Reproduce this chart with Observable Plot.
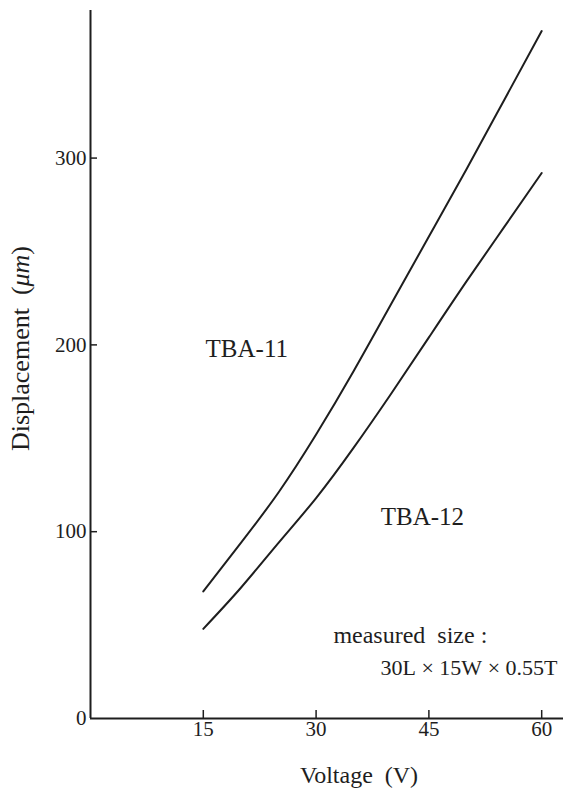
<!DOCTYPE html>
<html><head><meta charset="utf-8">
<script src="https://cdn.jsdelivr.net/npm/d3@7"></script>
<script src="https://cdn.jsdelivr.net/npm/@observablehq/plot@0.6"></script>
<style>body{margin:0;background:#fff;}</style>
</head><body><div id="chart"></div>
<script>
const voltage = [15, 20, 25, 30, 35, 40, 45, 50, 55, 60];
const tba11 = [68, 94, 121, 152, 186, 222, 258, 294, 331, 368];
const tba12 = [48, 70, 94, 118, 145, 174, 204, 234, 263, 292];
const seriesNames = ["TBA-11", "TBA-12"];
const xTicks = [15, 30, 45, 60];
const yTicks = [0, 100, 200, 300];
const xLabel = "Voltage\u00A0\u00A0(V)";
const yLabelMain = "Displacement\u00A0\u00A0(";
const yLabelUnit = "μm";
const yLabel = yLabelMain + yLabelUnit + ")";
const noteLines = ["measured\u00A0\u00A0size\u00A0:", "30L\u00A0×\u00A015W\u00A0×\u00A00.55T"];

const rows = [];
voltage.forEach((v, i) => {
  rows.push({series: seriesNames[0], v, d: tba11[i]});
  rows.push({series: seriesNames[1], v, d: tba12[i]});
});

const ink = "#1e1e1e";
const serif = "Liberation Serif";

const seriesLabels = [
  {t: seriesNames[0], x: 15.3, y: 198},
  {t: seriesNames[1], x: 38.6, y: 107.6}
];

const chart = Plot.plot({
  width: 563, height: 794,
  marginLeft: 90, marginRight: 0, marginTop: 10, marginBottom: 76,
  style: {fontFamily: serif, fontSize: "21px", color: ink, background: "#fff", overflow: "visible"},
  x: {domain: [0, 62.9]},
  y: {domain: [0, 379]},
  marks: [
    Plot.ruleX([0], {stroke: ink, strokeWidth: 2}),
    Plot.ruleY([0], {stroke: ink, strokeWidth: 2}),
    Plot.axisY(yTicks, {tickSize: 0, tickPadding: 4, label: null, fontSize: 21, fontFamily: serif}),
    Plot.axisY(yTicks.filter(d => d > 0), {tickSize: 7, dx: 7, tickFormat: () => "", label: null, strokeWidth: 1.5}),
    Plot.axisX(xTicks, {tickSize: 0, tickPadding: 3, label: null, fontSize: 21, fontFamily: serif}),
    Plot.axisX(xTicks, {tickSize: 8, dy: -8, tickFormat: () => "", label: null, strokeWidth: 1.5}),
    Plot.line(rows, {x: "v", y: "d", z: "series", curve: "natural", stroke: ink, strokeWidth: 2}),
    Plot.text(seriesLabels, {x: "x", y: "y", text: "t", textAnchor: "start", fontSize: 25, fontFamily: serif, fill: ink}),
    Plot.text([noteLines[0]], {x: 32.3, y: 44.4, textAnchor: "start", fontSize: 24, fontFamily: serif, fill: ink}),
    Plot.text([noteLines[1]], {x: 62.1, y: 27.3, textAnchor: "end", fontSize: 22, fontFamily: serif, fill: ink}),
    Plot.text([xLabel], {frameAnchor: "bottom", textAnchor: "middle", dx: 32, dy: 64, fontSize: 24, fontFamily: serif, fill: ink}),
    Plot.text([yLabel], {frameAnchor: "left", textAnchor: "middle", rotate: -90, dx: -70, dy: -16, fontSize: 26, fontFamily: serif, fill: ink})
  ]
});

d3.select(chart).selectAll("text").each(function() {
  if (this.textContent === yLabel) {
    const el = d3.select(this);
    el.text(null);
    el.append("tspan").text(yLabelMain);
    el.append("tspan").attr("font-style", "italic").text(yLabelUnit);
    el.append("tspan").text(")");
  }
});

document.getElementById("chart").appendChild(chart);
</script>
</body></html>
